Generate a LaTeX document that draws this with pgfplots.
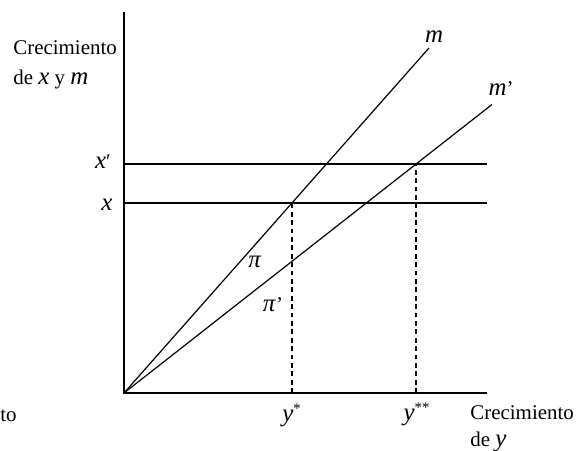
\documentclass[border=0pt]{standalone}
\usepackage{fontspec}
\setmainfont{Liberation Serif}
\usepackage{pgfplots}
\pgfplotsset{compat=1.18}
\newcommand{\mv}[1]{{\fontsize{12.5}{15}\selectfont\textit{#1}}}
\begin{document}
\fontsize{10.5}{15}\selectfont
\begin{tikzpicture}
\begin{axis}[
  x=0.5bp, y=0.5bp,
  xmin=-124, xmax=452, ymin=-58, ymax=393,
  hide axis, clip=false,
]
\pgfplotsset{ln/.style={black, line width=0.6bp, mark=none}}
% invisible frame fixing the picture size
\addplot[draw=none, mark=none] coordinates {(-124,-58) (452,393)};
% axes
\addplot[ln, line width=0.75bp] coordinates {(0,381) (0,0) (363,0)};
% horizontal x and x'
\addplot[ln] coordinates {(0,190) (363,190)};
\addplot[ln] coordinates {(0,229) (363,229)};
% m and m'
\addplot[ln] coordinates {(0,0) (305,345)};
\addplot[ln] coordinates {(0,0) (368,288.5)};
% dashed verticals
\addplot[ln, dash pattern=on 2.4bp off 1.8bp] coordinates {(168,0) (168,190)};
\addplot[ln, dash pattern=on 2.4bp off 1.8bp] coordinates {(292,0) (292,229)};
% labels
\node at (axis cs:310,356) {\mv{m}};
\node at (axis cs:377,304) {\mv{m}’};
\node at (axis cs:-21,231) {\mv{x}′};
\node at (axis cs:-17,188) {\mv{x}};
\node at (axis cs:131,131) {\mv{π}};
\node at (axis cs:149,88) {\mv{π}’};
\node at (axis cs:168,-22) {\mv{y}\textsuperscript{*}};
\node at (axis cs:293,-21) {\mv{y}\textsuperscript{**}};
\node[overlay, anchor=north west, align=left, inner sep=0pt] at (axis cs:346,-12) {Crecimiento\\[-1.5bp]de \mv{y}};
\node[overlay, anchor=west, align=left, inner sep=0pt] at (axis cs:-111,328) {Crecimiento\\de \mv{x} y \mv{m}};
\node[overlay, anchor=west, inner sep=0pt] at (axis cs:-124,-23) {to};
\end{axis}
\end{tikzpicture}
\end{document}
